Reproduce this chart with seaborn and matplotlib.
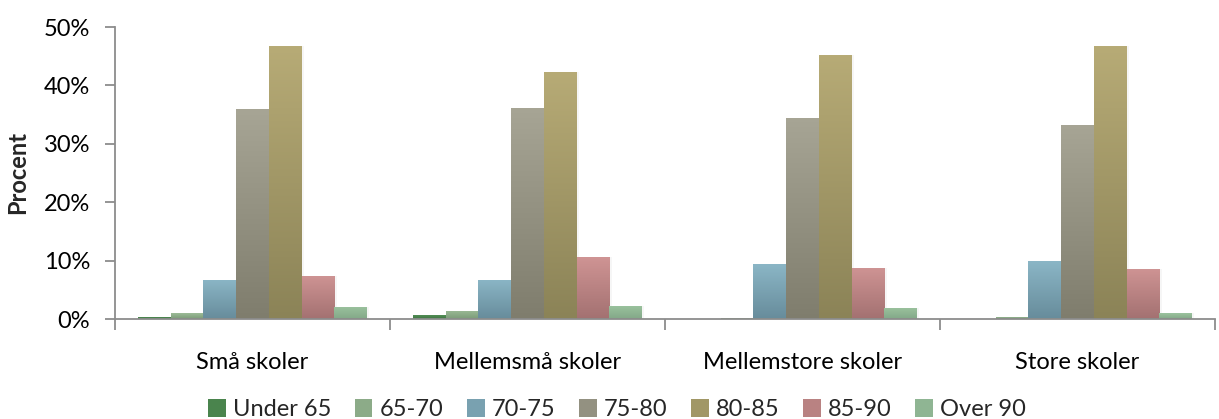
import numpy as np
import pandas as pd
import matplotlib
matplotlib.use("Agg")
import matplotlib.pyplot as plt
import matplotlib.colors as mcolors
from matplotlib.ticker import FuncFormatter, FixedLocator
from matplotlib.patches import Patch
import seaborn as sns

# --- data -----------------------------------------------------------------
schools = ["Små skoler", "Mellemsmå skoler", "Mellemstore skoler", "Store skoler"]
age_groups = ["Under 65", "65-70", "70-75", "75-80", "80-85", "85-90", "Over 90"]

under_65 = [0.4, 0.7, 0.0, 0.0]
age_65_70 = [1.0, 1.4, 0.2, 0.35]
age_70_75 = [6.7, 6.7, 9.4, 9.9]
age_75_80 = [35.9, 36.2, 34.5, 33.3]
age_80_85 = [46.7, 42.3, 45.2, 46.7]
age_85_90 = [7.4, 10.6, 8.8, 8.6]
over_90 = [2.1, 2.3, 1.9, 1.0]

series = [under_65, age_65_70, age_70_75, age_75_80, age_80_85, age_85_90, over_90]

df = pd.DataFrame(
    [(s, g, v) for g, vals in zip(age_groups, series) for s, v in zip(schools, vals)],
    columns=["skole", "alder", "procent"],
)

# top / bottom shades of each bar's vertical gradient
top_colors = ["#559257", "#9cbb97", "#8bb6c6", "#a7a595", "#b7ab76", "#cf9494", "#9bc39e"]
bot_colors = ["#3f7643", "#7b9b78", "#678c9b", "#7f7d6d", "#8b8357", "#a37171", "#83a888"]
mid_colors = [mcolors.to_hex((np.array(mcolors.to_rgb(t)) + np.array(mcolors.to_rgb(b))) / 2)
              for t, b in zip(top_colors, bot_colors)]

FS = 17

# --- figure ---------------------------------------------------------------
sns.set_theme(style="white")
plt.rcParams["font.family"] = ["Lato", "DejaVu Sans"]

fig = plt.figure(figsize=(12.19, 4.19), dpi=100)
ax = fig.add_axes([115 / 1219, 100 / 419, 1100 / 1219, 292 / 419])

sns.barplot(
    data=df, x="skole", y="procent", hue="alder",
    order=schools, hue_order=age_groups,
    palette=mid_colors, width=0.833, gap=0, ax=ax,
    legend=False, linewidth=0, saturation=1,
)

# vertical gradient fill on every bar, clipped to the bar shape
grad = np.linspace(0, 1, 256).reshape(-1, 1)
for i, container in enumerate(ax.containers):
    cmap = mcolors.LinearSegmentedColormap.from_list(
        f"g{i}", [bot_colors[i], top_colors[i]])
    for bar in container:
        x0, y0 = bar.get_x(), bar.get_y()
        w, h = bar.get_width(), bar.get_height()
        if h <= 0:
            continue
        # faint drop shadow to the right of the bar
        ax.add_patch(plt.Rectangle((x0 + w, y0), 0.008, h, facecolor="#000000",
                                   alpha=0.035, linewidth=0, zorder=1.5))
        im = ax.imshow(grad, extent=(x0, x0 + w, y0, y0 + h), origin="lower",
                       aspect="auto", cmap=cmap, zorder=2)
        im.set_clip_path(bar)

ax.set_xlim(-0.5, len(schools) - 0.5)
ax.set_ylim(0, 50)

# axes styling
for side in ["top", "right"]:
    ax.spines[side].set_visible(False)
for side in ["left", "bottom"]:
    ax.spines[side].set_color("#8c8c8c")
    ax.spines[side].set_linewidth(1.3)

ax.yaxis.set_major_locator(FixedLocator(np.arange(0, 51, 10)))
ax.yaxis.set_major_formatter(FuncFormatter(lambda v, _: f"{int(v)}%"))
ax.tick_params(axis="y", which="major", left=True, direction="out", length=7,
               width=1.3, color="#8c8c8c", labelsize=FS, pad=11, labelcolor="#000000")

# category labels centred, tick marks on the group boundaries
ax.set_xticks(range(len(schools)))
ax.set_xticklabels(schools)
ax.tick_params(axis="x", which="major", length=0, labelsize=FS, pad=24,
               labelcolor="#000000")
ax.set_xticks(np.arange(-0.5, len(schools) + 0.5, 1), minor=True)
ax.tick_params(axis="x", which="minor", bottom=True, direction="out", length=8,
               width=1.3, color="#8c8c8c")

ax.set_xlabel("")
ax.set_ylabel("Procent", fontsize=FS, fontweight="bold", labelpad=10)

handles = [Patch(facecolor=c, edgecolor="none") for c in mid_colors]
fig.legend(handles, age_groups, loc="center", bbox_to_anchor=(0.506, 0.022),
           ncol=len(age_groups), frameon=False, fontsize=FS,
           handlelength=0.75, handleheight=0.75, handletextpad=0.3,
           columnspacing=1.0, borderpad=0)

fig.savefig("out.png", dpi=100)
